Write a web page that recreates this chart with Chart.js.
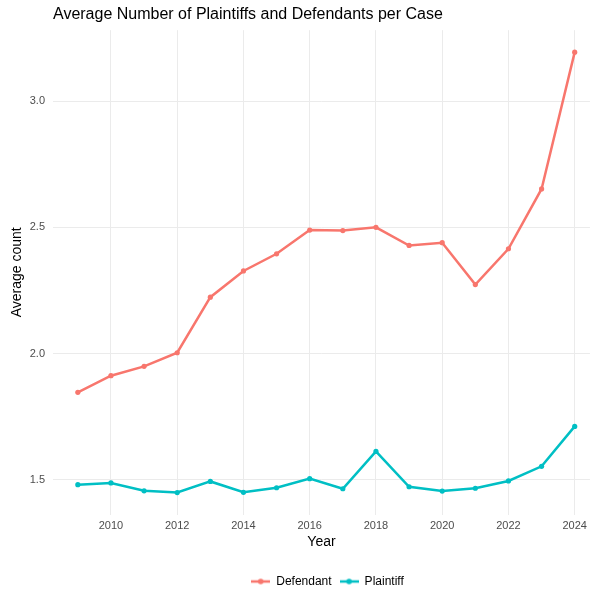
<!DOCTYPE html>
<html>
<head>
<meta charset="utf-8">
<script src="https://cdn.jsdelivr.net/npm/chart.js@4"></script>
<style>
  html, body { margin: 0; padding: 0; background: #ffffff; }
  #wrap { width: 592px; height: 590px; }
</style>
</head>
<body>
<div id="wrap"><canvas id="myChart" width="592" height="590"></canvas></div>
<script>
const years = [2009, 2010, 2011, 2012, 2013, 2014, 2015, 2016, 2017, 2018, 2019, 2020, 2021, 2022, 2023, 2024];
const defendant = [1.846, 1.912, 1.949, 2.003, 2.223, 2.327, 2.395, 2.489, 2.487, 2.500, 2.428, 2.439, 2.273, 2.415, 2.652, 3.194];
const plaintiff = [1.480, 1.487, 1.456, 1.449, 1.493, 1.450, 1.468, 1.504, 1.464, 1.612, 1.472, 1.455, 1.466, 1.495, 1.553, 1.711];
const xTicks = [2010, 2012, 2014, 2016, 2018, 2020, 2022, 2024];
const yTicks = [1.5, 2.0, 2.5, 3.0];

const red = '#F8766D';
const teal = '#00BFC4';
const font = "'Liberation Sans', Arial, sans-serif";

function legendIcon(color){
    let c = document.createElement('canvas');
    c.width = 19;
    c.height = 8;
    let g = c.getContext('2d');
    g.strokeStyle = color;
    g.lineWidth = 2.5;
    g.beginPath();
    g.moveTo(0, 4);
    g.lineTo(19, 4);
    g.stroke();
    g.fillStyle = color;
    g.beginPath();
    g.arc(9.5, 4, 2.8, 0, Math.PI * 2);
    g.fill();
    return c;
}

function toPoints(vals){
    return years.map((y, i) => ({x: y, y: vals[i]}));
}

// ggplot centres the legend under the panel, not the canvas
const legendShift = {
    id: 'legendShift',
    afterLayout(chart){
        chart.legend.left += 27;
        chart.legend.right += 27;
    }
};

const ctx = document.getElementById('myChart');
new Chart(ctx, {
    type: 'line',
    data: {
        datasets: [{
            label: 'Defendant',
            data: toPoints(defendant),
            borderColor: red,
            backgroundColor: red,
            borderWidth: 2.5,
            pointRadius: 2.6,
            pointBorderWidth: 0,
            pointHoverRadius: 2.6,
            tension: 0
        }, {
            label: 'Plaintiff',
            data: toPoints(plaintiff),
            borderColor: teal,
            backgroundColor: teal,
            borderWidth: 2.5,
            pointRadius: 2.6,
            pointBorderWidth: 0,
            pointHoverRadius: 2.6,
            tension: 0
        }]
    },
    plugins: [legendShift],
    options: {
        responsive: false,
        animation: false,
        layout: { autoPadding: false, padding: { left: 9, right: 0, top: 0, bottom: -7.5 } },
        plugins: {
            tooltip: { enabled: false },
            title: {
                display: true,
                text: 'Average Number of Plaintiffs and Defendants per Case',
                align: 'start',
                fullSize: false,
                color: '#000000',
                font: { family: font, size: 16, weight: 'normal' },
                padding: { top: 5, bottom: 6 }
            },
            legend: {
                position: 'bottom',
                labels: {
                    usePointStyle: true,
                    pointStyleWidth: 19,
                    color: '#000000',
                    font: { family: font, size: 12 },
                    boxHeight: 8,
                    padding: 8,
                    generateLabels: chart => chart.data.datasets.map((ds, i) => ({
                        text: ds.label,
                        pointStyle: legendIcon(ds.borderColor),
                        fillStyle: ds.borderColor,
                        strokeStyle: ds.borderColor,
                        lineWidth: 0,
                        datasetIndex: i,
                        fontColor: '#000000'
                    }))
                }
            }
        },
        scales: {
            x: {
                type: 'linear',
                min: 2008.25,
                max: 2024.46,
                afterBuildTicks: axis => { axis.ticks = xTicks.map(v => ({value: v})); },
                ticks: {
                    color: '#4d4d4d',
                    font: { family: font, size: 11 },
                    padding: 5,
                    maxRotation: 0,
                    callback: v => String(v)
                },
                grid: { color: '#ebebeb', lineWidth: 1, drawTicks: false },
                border: { display: false },
                title: {
                    display: true,
                    text: 'Year',
                    color: '#000000',
                    font: { family: font, size: 14 },
                    padding: { top: -4, bottom: 17 }
                }
            },
            y: {
                min: 1.362,
                max: 3.281,
                afterBuildTicks: axis => { axis.ticks = yTicks.map(v => ({value: v})); },
                afterFit: axis => { axis.width = 44; },
                ticks: {
                    color: '#4d4d4d',
                    font: { family: font, size: 11 },
                    padding: 8,
                    callback: v => v.toFixed(1)
                },
                grid: { color: '#ebebeb', lineWidth: 1, drawTicks: false },
                border: { display: false },
                title: {
                    display: true,
                    text: 'Average count',
                    color: '#000000',
                    font: { family: font, size: 14 },
                    padding: { top: 0, bottom: 2 }
                }
            }
        }
    }
});
</script>
</body>
</html>
